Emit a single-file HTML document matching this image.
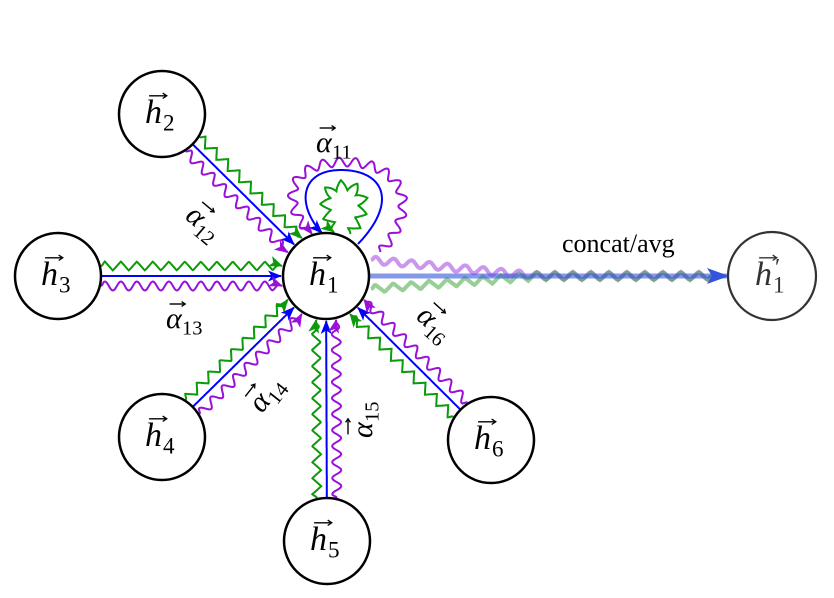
<!DOCTYPE html>
<html><head><meta charset="utf-8"><style>
html,body{margin:0;padding:0;background:#fff;}
svg{display:block}
</style></head><body>
<svg id="s" width="834" height="598" viewBox="0 0 834 598" xmlns="http://www.w3.org/2000/svg">
<defs>
<marker id="mb" markerUnits="userSpaceOnUse" markerWidth="14" markerHeight="14" refX="13" refY="7" orient="auto"><path d="M0,1.5 L14,7 L0,12.5 L3.5,7 z" fill="#0000ff"/></marker>
<marker id="mg" markerUnits="userSpaceOnUse" markerWidth="14" markerHeight="14" refX="13" refY="7" orient="auto"><path d="M0,1.5 L14,7 L0,12.5 L3.5,7 z" fill="#0a9a0a"/></marker>
<marker id="mp" markerUnits="userSpaceOnUse" markerWidth="14" markerHeight="14" refX="13" refY="7" orient="auto"><path d="M0,1.5 L14,7 L0,12.5 L3.5,7 z" fill="#9a10d8"/></marker>
<marker id="mB" markerUnits="userSpaceOnUse" markerWidth="22" markerHeight="18" refX="20" refY="9" orient="auto"><path d="M0,1 L22,9 L0,17 L5,9 z" fill="#3355dd"/></marker>
</defs>
<g id="lines"></g>
<g id="nodes"></g>
</svg>
<script>
const NS="http://www.w3.org/2000/svg";
const L=document.getElementById('lines'), N=document.getElementById('nodes');
function el(p,tag,a,txt){const e=document.createElementNS(NS,tag);for(const k in a)e.setAttribute(k,a[k]);if(txt!==undefined)e.textContent=txt;p.appendChild(e);return e;}
const G="#0a9a0a",P="#9a10d8",B="#0000ff";
function sampleLine(a,b){const pts=[];const d=Math.hypot(b[0]-a[0],b[1]-a[1]);const n=Math.ceil(d);for(let i=0;i<=n;i++){const t=i/n;pts.push([a[0]+(b[0]-a[0])*t,a[1]+(b[1]-a[1])*t]);}return pts;}
function sampleBez(p0,p1,p2,p3){const pts=[];for(let i=0;i<=200;i++){const t=i/200,u=1-t;pts.push([u*u*u*p0[0]+3*u*u*t*p1[0]+3*u*t*t*p2[0]+t*t*t*p3[0],u*u*u*p0[1]+3*u*u*t*p1[1]+3*u*t*t*p2[1]+t*t*t*p3[1]]);}return pts;}
function deform(pts,type,amp,lam,tail){
  const s=[0];for(let i=1;i<pts.length;i++)s.push(s[i-1]+Math.hypot(pts[i][0]-pts[i-1][0],pts[i][1]-pts[i-1][1]));
  const T=s[s.length-1];const out=[];
  for(let i=0;i<pts.length;i++){
    const a=pts[Math.max(0,i-1)],b=pts[Math.min(pts.length-1,i+1)];
    let dx=b[0]-a[0],dy=b[1]-a[1];const l=Math.hypot(dx,dy)||1;dx/=l;dy/=l;
    let f;const ph=s[i]/lam;
    if(type==='s')f=Math.sin(ph*2*Math.PI);else{const x=ph-Math.floor(ph);f=x<0.25?4*x:(x<0.75?2-4*x:4*x-4);}
    let k=1;const rem=T-s[i];if(rem<tail)k=rem/tail;if(s[i]<3)k=Math.min(k,s[i]/3);
    out.push([pts[i][0]+dy*f*amp*k,pts[i][1]-dx*f*amp*k]);
  }
  return out;
}
function poly(pts,color,w,marker,op){const d='M'+pts.map(p=>p[0].toFixed(1)+','+p[1].toFixed(1)).join(' L');const a={d:d,fill:'none',stroke:color,'stroke-width':w,'stroke-linejoin':'miter'};if(marker)a['marker-end']='url(#'+marker+')';if(op)a['stroke-opacity']=op;el(L,'path',a);}
const C={1:[326,276],2:[162,114],3:[58,276],4:[162,437],5:[327,541],6:[491,440]};const R=44;
for(const k of [2,3,4,5,6]){
  const s=C[k],e=C[1];let dx=e[0]-s[0],dy=e[1]-s[1];const Ld=Math.hypot(dx,dy);dx/=Ld;dy/=Ld;const nx=dy,ny=-dx;
  for(const [off,col,type,mk] of [[10,G,'z','mg'],[0,B,'l','mb'],[-10,P,'s','mp']]){
    const p0=[s[0]+nx*off,s[1]+ny*off];const h=Math.sqrt(R*R-off*off);
    const a=[p0[0]+dx*h,p0[1]+dy*h];const te=Ld-Math.sqrt((R+1)*(R+1)-off*off);const b=[p0[0]+dx*te,p0[1]+dy*te];
    let pts=sampleLine(a,b);if(type!=='l')pts=deform(pts,type,4.5,16,10);
    poly(pts,col,2,mk);
  }
}
// self loops
poly(deform(sampleBez([380,252],[422,208],[404,162],[344,162]).concat(sampleBez([344,162],[285,162],[280,205],[312,234]).slice(1)),'s',4.5,16,10),P,2,'mp');
poly(sampleBez([358,244],[400,200],[382,170],[341,170]).concat(sampleBez([341,170],[300,170],[296,205],[322,233]).slice(1)),B,2,'mb');
poly(deform(sampleBez([350,234],[372,208],[364,185],[344,185]).concat(sampleBez([344,185],[322,185],[320,205],[334,232]).slice(1)),'z',5,14,7),G,2,'mg');
// output lines
(function(){
  const pp=[];for(let x=371;x<=712;x++){const y=x<540?260+16*(x-371)/169:276;pp.push([x,y]);}
  poly(deform(pp,'s',3.5,18,4),"#a040e0",4,null,0.55);
  const gp=[];for(let x=371;x<=712;x++){const y=x<540?289-13*(x-371)/169:276;gp.push([x,y]);}
  poly(deform(gp,'z',4,18,4),"#30a030",4,null,0.5);
  el(L,'line',{x1:370,y1:276,x2:727,y2:276,stroke:'#3355dd','stroke-width':5,'stroke-opacity':0.6,'marker-end':'url(#mB)'});
})();
function vlabel(parent,x,y,base,sub,fs,rot,prime,color){
  const g=el(parent,'g',{transform:`translate(${x},${y}) rotate(${rot||0})`});
  const c=color||'#000';
  el(g,'text',{x:0,y:0,'font-family':'Liberation Serif, serif','font-style':'italic','font-size':fs,fill:c},base);
  const w=fs*0.5;
  el(g,'path',{d:`M${fs*0.12},${-fs*0.8} L${w+fs*0.12},${-fs*0.8}`,stroke:c,'stroke-width':1.4});
  el(g,'path',{d:`M${w+fs*0.02},${-fs*0.88} L${w+fs*0.14},${-fs*0.8} L${w+fs*0.02},${-fs*0.72}`,stroke:c,'stroke-width':1.3,fill:'none'});
  if(prime)el(g,'text',{x:w+3,y:-fs*0.3,'font-family':'Liberation Serif, serif','font-size':fs*0.7,fill:c},'′');
  el(g,'text',{x:w+1,y:fs*0.22,'font-family':'Liberation Serif, serif','font-size':fs*0.68,fill:c},sub);
}
for(const k of [1,2,3,4,5,6]){const c=C[k];el(N,'circle',{cx:c[0],cy:c[1],r:R-1,fill:'#fff',stroke:'#000','stroke-width':2.5});vlabel(N,c[0]-17,c[1]+9,'h',String(k),34,0);}
el(N,'circle',{cx:772,cy:276,r:44,fill:'#fff',stroke:'#333','stroke-width':2.2});
vlabel(N,755,285,'h','1',34,0,true,'#333');
el(N,'text',{x:562,y:252,'font-family':'Liberation Serif, serif','font-size':26},'concat/avg');
vlabel(N,316,152,'α','11',30,0);
vlabel(N,184,218,'α','12',30,40);
vlabel(N,166,328,'α','13',30,0);
vlabel(N,262,414,'α','14',30,-52);
vlabel(N,372,438,'α','15',30,-90);
vlabel(N,415,318,'α','16',30,42);
</script>
</body></html>
